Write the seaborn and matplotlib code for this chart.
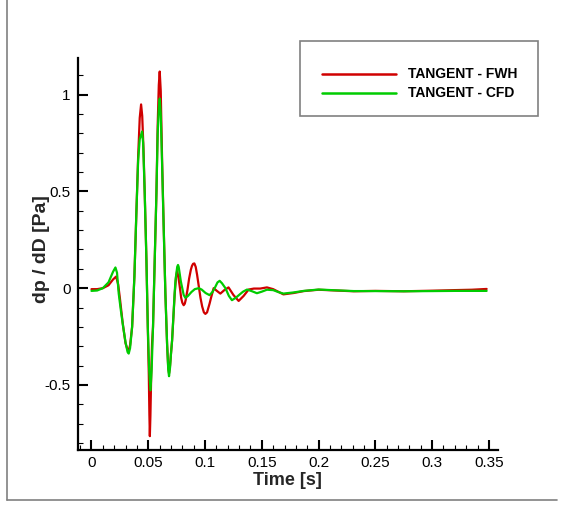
import numpy as np
import pandas as pd
import matplotlib
matplotlib.use("Agg")
import matplotlib.pyplot as plt
from matplotlib.lines import Line2D
from matplotlib.patches import Rectangle
from matplotlib.ticker import MultipleLocator, FuncFormatter
import seaborn as sns

# ---------------- data ----------------
t_fwh = [0.000, 0.005, 0.010, 0.015, 0.019, 0.0217, 0.0235, 0.025, 0.0275, 0.030,
         0.0318, 0.0328, 0.034, 0.0358, 0.0378, 0.0396, 0.0411, 0.0425, 0.0437, 0.0447,
         0.0458, 0.0469, 0.0484, 0.0496, 0.0505, 0.0510, 0.0514, 0.0519, 0.0526, 0.0534,
         0.0542, 0.0557, 0.0572, 0.0583, 0.0593, 0.0601, 0.0610, 0.0622, 0.0636, 0.0651,
         0.0666, 0.0676, 0.0683, 0.0692, 0.0700, 0.0710, 0.0733, 0.0745, 0.0754, 0.0765,
         0.0777, 0.0790, 0.0800, 0.0812, 0.0822, 0.0830, 0.0845, 0.0860, 0.0875, 0.0885,
         0.0895, 0.0906, 0.0918, 0.0930, 0.0945, 0.0960, 0.0975, 0.0990, 0.1003, 0.1018,
         0.1040, 0.1055, 0.1076, 0.1100, 0.1135, 0.1170, 0.1207, 0.1250, 0.1296, 0.1340,
         0.1384, 0.1430, 0.1486, 0.1545, 0.1600, 0.1647, 0.169, 0.178,
         0.187, 0.200, 0.215, 0.231, 0.250, 0.275, 0.300, 0.320, 0.335, 0.348]
p_fwh = [-0.005, -0.005, 0.000, 0.015, 0.045, 0.060, 0.020, -0.050, -0.180, -0.285,
         -0.318, -0.322, -0.295, -0.200, 0.060, 0.400, 0.680, 0.880, 0.950, 0.890,
         0.720, 0.490, 0.145, -0.200, -0.450, -0.650, -0.765, -0.660, -0.450, -0.280,
         -0.200, 0.145, 0.490, 0.840, 1.050, 1.120, 1.020, 0.660, 0.320, -0.030,
         -0.290, -0.410, -0.440, -0.400, -0.340, -0.270, -0.030, 0.060, 0.088, 0.060,
         0.010, -0.050, -0.075, -0.088, -0.080, -0.060, -0.010, 0.050, 0.095, 0.115,
         0.126, 0.128, 0.110, 0.070, 0.010, -0.050, -0.095, -0.125, -0.133, -0.125,
         -0.080, -0.045, 0.000, -0.012, -0.028, -0.010, 0.004, -0.035, -0.066, -0.040,
         -0.007, -0.002, -0.002, 0.004, -0.005, -0.019, -0.032, -0.025,
         -0.015, -0.008, -0.012, -0.016, -0.014, -0.016, -0.013, -0.010, -0.008, -0.004]

t_cfd = [0.000, 0.005, 0.010, 0.015, 0.019, 0.0211, 0.0225, 0.024, 0.026, 0.0279,
         0.030, 0.0318, 0.0328, 0.034, 0.0358, 0.0378, 0.0396, 0.0411, 0.0425, 0.0446,
         0.0455, 0.0469, 0.0484, 0.0496, 0.0508, 0.0520, 0.0530, 0.0542, 0.0557, 0.0572,
         0.0583, 0.0593, 0.0601, 0.0610, 0.0622, 0.0636, 0.0651, 0.0666, 0.0676, 0.0683,
         0.0692, 0.0700, 0.0710, 0.0733, 0.0740, 0.0755, 0.0762, 0.0768, 0.0787, 0.0812,
         0.0827, 0.0850, 0.0880, 0.0910, 0.0944, 0.0970, 0.1005, 0.1040, 0.1065, 0.1085,
         0.1110, 0.1129, 0.1150, 0.1180, 0.1210, 0.1237, 0.1270, 0.1300, 0.1335, 0.1370,
         0.1410, 0.1457, 0.1500, 0.1545, 0.1600, 0.1645, 0.169, 0.178, 0.187, 0.200,
         0.215, 0.231, 0.250, 0.275, 0.300, 0.320, 0.348]
p_cfd = [-0.014, -0.012, 0.000, 0.030, 0.085, 0.107, 0.080, -0.028, -0.120, -0.200,
         -0.280, -0.330, -0.338, -0.310, -0.200, 0.060, 0.400, 0.660, 0.770, 0.810,
         0.750, 0.490, 0.145, -0.200, -0.420, -0.528, -0.420, -0.200, 0.145, 0.490,
         0.800, 0.930, 0.980, 0.900, 0.640, 0.310, -0.030, -0.290, -0.420, -0.455,
         -0.410, -0.340, -0.270, -0.020, 0.040, 0.110, 0.120, 0.110, 0.035, -0.035,
         -0.050, -0.040, -0.020, -0.005, 0.000, -0.007, -0.025, -0.036, -0.020, 0.000,
         0.030, 0.038, 0.025, 0.000, -0.040, -0.062, -0.050, -0.035, -0.018, -0.007,
         -0.015, -0.026, -0.018, -0.008, -0.010, -0.020, -0.028, -0.022, -0.014, -0.007,
         -0.011, -0.015, -0.015, -0.016, -0.015, -0.014, -0.014]

series_names = ["TANGENT - FWH", "TANGENT - CFD"]
series_colors = ["#d00000", "#00cc00"]
x_ticks = [0, 0.05, 0.1, 0.15, 0.2, 0.25, 0.3, 0.35]
y_ticks = [-0.5, 0, 0.5, 1]

df = pd.concat([
    pd.DataFrame({"t": t_fwh, "p": p_fwh, "series": series_names[0]}),
    pd.DataFrame({"t": t_cfd, "p": p_cfd, "series": series_names[1]}),
], ignore_index=True)

# ---------------- style ----------------
sns.set_style("ticks")
plt.rcParams["font.family"] = ["Liberation Sans", "DejaVu Sans"]

W, H = 564, 505
fig = plt.figure(figsize=(W / 100, H / 100), dpi=100)
ax = fig.add_axes([77.5 / W, 1 - 449.5 / H, (498 - 77.5) / W, (449.5 - 58) / H])

sns.lineplot(data=df, x="t", y="p", hue="series", palette=series_colors,
             hue_order=series_names, sort=False, estimator=None,
             linewidth=1.6, ax=ax, legend=False)

ax.set_xlim(-0.0123, 0.358)
ax.set_ylim(-0.834, 1.19)
ax.set_xticks(x_ticks)
ax.set_yticks(y_ticks)
ax.xaxis.set_minor_locator(MultipleLocator(0.01))
ax.yaxis.set_minor_locator(MultipleLocator(0.1))
fmt = FuncFormatter(lambda v, pos: ("%g" % v))
ax.xaxis.set_major_formatter(fmt)
ax.yaxis.set_major_formatter(fmt)

for s in ["top", "right"]:
    ax.spines[s].set_visible(False)
for s in ["left", "bottom"]:
    ax.spines[s].set_linewidth(1.6)
    ax.spines[s].set_color("black")

ax.tick_params(which="major", direction="in", length=7, width=1.5,
               labelsize=11, colors="black", pad=5)
ax.tick_params(which="minor", direction="in", length=3.5, width=0.8, colors="black")

ax.set_xlabel("Time [s]", fontsize=13, fontweight="bold", labelpad=1)
ax.set_ylabel("dp / dD [Pa]", fontsize=14, fontweight="bold")
ax.yaxis.set_label_coords(50 / W, 1 - 249 / H, transform=fig.transFigure)

# legend box (drawn in figure pixels)
def fx(px):
    return px / W

def fy(py):
    return 1 - py / H

fig.add_artist(Rectangle((fx(300), fy(116)), fx(538) - fx(300), fy(41) - fy(116),
                         transform=fig.transFigure, facecolor="white",
                         edgecolor="#808080", lw=1.2))
for i, (name, col) in enumerate(zip(series_names, series_colors)):
    yy = 74 + 19 * i
    fig.add_artist(Line2D([fx(322), fx(396)], [fy(yy), fy(yy)],
                          transform=fig.transFigure, color=col, lw=1.8))
    fig.text(fx(408), fy(yy), name, fontsize=10, fontweight="bold",
             va="center", ha="left", color="black")

# outer frame lines (left and bottom edges of the page frame)
fig.add_artist(Line2D([fx(6.5), fx(6.5)], [fy(500), 1.0], transform=fig.transFigure,
                      color="#808080", lw=1.2))
fig.add_artist(Line2D([fx(6.5), fx(557)], [fy(500), fy(500)], transform=fig.transFigure,
                      color="#808080", lw=1.2))

fig.savefig("out.png", dpi=100)
